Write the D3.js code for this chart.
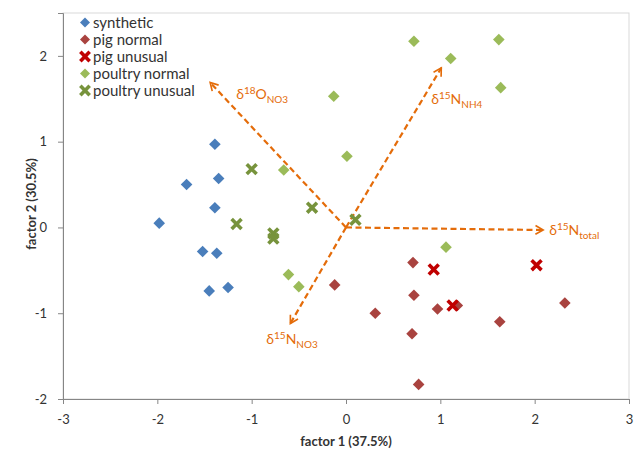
<!DOCTYPE html>
<html>
<head>
<meta charset="utf-8">
<script src="https://cdn.jsdelivr.net/npm/d3@7"></script>
<style>
  body { margin: 0; background: #fff; }
  text { font-family: Lato, 'Open Sans', sans-serif; }
</style>
</head>
<body>
<div class="graph"></div>
<script>
// scores, [factor 1, factor 2]
var synthetic = [[-1.39, 0.97], [-1.69, 0.50], [-1.35, 0.57], [-1.39, 0.23], [-1.98, 0.05],
  [-1.52, -0.28], [-1.37, -0.30], [-1.45, -0.74], [-1.25, -0.70]];
var pigNormal = [[0.71, -0.41], [0.72, -0.79], [-0.12, -0.67], [0.31, -1.00], [0.97, -0.95],
  [0.70, -1.24], [0.77, -1.83], [1.63, -1.10], [2.32, -0.88], [1.18, -0.91]];
var pigUnusual = [[0.93, -0.49], [1.13, -0.91], [2.02, -0.44]];
var poultryNormal = [[-0.66, 0.67], [0.01, 0.83], [-0.61, -0.55], [-0.50, -0.69], [0.72, 2.17],
  [1.62, 2.19], [1.11, 1.97], [1.64, 1.63], [-0.13, 1.53], [1.06, -0.23]];
var poultryUnusual = [[-1.00, 0.68], [-1.16, 0.04], [-0.77, -0.07], [-0.77, -0.13], [-0.36, 0.23], [0.10, 0.09]];

// loadings (arrow tips)
var loadingNames = ['18O_NO3', '15N_NH4', '15N_total', '15N_NO3'];
var loadingX = [-1.44, 1.01, 2.09, -0.59];
var loadingY = [1.69, 1.86, -0.03, -1.12];

var xTicks = [-3, -2, -1, 0, 1, 2, 3];
var yTicks = [-2, -1, 0, 1, 2];

var width = 635,
    height = 451;

var series = [
  { name: 'synthetic', data: synthetic, shape: 'diamond', color: '#4A7EBB' },
  { name: 'pig normal', data: pigNormal, shape: 'diamond', color: '#A9433F' },
  { name: 'pig unusual', data: pigUnusual, shape: 'cross', color: '#C00000' },
  { name: 'poultry normal', data: poultryNormal, shape: 'diamond', color: '#9BBB59' },
  { name: 'poultry unusual', data: poultryUnusual, shape: 'cross', color: '#77933C' }
];

var svg = d3.select('.graph')
  .append('svg')
  .attr('width', width)
  .attr('height', height);

var xScale = d3.scaleLinear().domain([-3, 3]).range([63, 629]);
var yScale = d3.scaleLinear().domain([-2, 2.5]).range([399, 13]);

// plot area border
svg.append('rect')
  .attr('x', xScale(-3))
  .attr('y', yScale(2.5))
  .attr('width', xScale(3) - xScale(-3))
  .attr('height', yScale(-2) - yScale(2.5))
  .attr('fill', 'none')
  .attr('stroke', '#d9d9d9');

var plainFormat = (d) => String(d);

var xAxis = svg.append('g')
  .attr('transform', 'translate(0,' + yScale(-2) + ')')
  .call(d3.axisBottom(xScale).tickValues(xTicks).tickFormat(plainFormat)
    .tickSizeOuter(0).tickSize(5).tickPadding(11));

var yAxis = svg.append('g')
  .attr('transform', 'translate(' + xScale(-3) + ',0)')
  .call(d3.axisLeft(yScale).tickValues(yTicks).tickFormat(plainFormat)
    .tickSizeOuter(0).tickSize(5).tickPadding(11));

[xAxis, yAxis].forEach(function (g) {
  g.select('.domain').attr('stroke', '#868686');
  g.selectAll('.tick line').attr('stroke', '#868686');
  g.selectAll('.tick text')
    .attr('fill', '#333')
    .style('font-size', '13px')
    .style('font-family', 'Lato, sans-serif');
});

svg.append('text')
  .text('factor 1 (37.5%)')
  .attr('x', xScale(0))
  .attr('y', 446)
  .attr('text-anchor', 'middle')
  .style('font-size', '13px')
  .style('font-weight', 'bold')
  .attr('fill', '#333');

svg.append('text')
  .text('factor 2 (30.5%)')
  .attr('transform', 'translate(36,' + 204 + ') rotate(-90)')
  .attr('text-anchor', 'middle')
  .style('font-size', '13px')
  .style('font-weight', 'bold')
  .attr('fill', '#333');

// loading arrows
var orange = '#E46C0A';
svg.append('defs').append('marker')
  .attr('id', 'head')
  .attr('viewBox', '0 0 10 10')
  .attr('refX', 8)
  .attr('refY', 5)
  .attr('markerWidth', 5)
  .attr('markerHeight', 5)
  .attr('markerUnits', 'strokeWidth')
  .attr('orient', 'auto')
  .append('path')
  .attr('d', 'M1,1 L8,5 L1,9')
  .attr('fill', 'none')
  .attr('stroke', orange)
  .attr('stroke-width', 1.5);

svg.selectAll('.loading')
  .data(loadingNames)
  .enter()
  .append('line')
  .attr('class', 'loading')
  .attr('x1', xScale(0))
  .attr('y1', yScale(0))
  .attr('x2', (d, i) => xScale(loadingX[i]))
  .attr('y2', (d, i) => yScale(loadingY[i]))
  .attr('stroke', orange)
  .attr('stroke-width', 2.2)
  .attr('stroke-dasharray', '6,3.5')
  .attr('marker-end', 'url(#head)');

// label offsets from arrow tips, in pixels
var labelDx = [26, -10, 6, -24];
var labelDy = [17, 36, 5, 20];

loadingNames.forEach(function (name, i) {
  var parts = name.split('_');
  var t = svg.append('text')
    .attr('x', xScale(loadingX[i]) + labelDx[i])
    .attr('y', yScale(loadingY[i]) + labelDy[i])
    .attr('fill', orange)
    .style('font-size', '14px');
  t.append('tspan').text('\u03B4');
  t.append('tspan').text(parts[0].slice(0, 2)).attr('dy', -5).style('font-size', '10px');
  t.append('tspan').text(parts[0].slice(2)).attr('dy', 5);
  t.append('tspan').text(parts[1]).attr('dy', 4).style('font-size', '10px');
});

// markers
function drawMarker(sel, shape, color, size) {
  if (shape === 'diamond') {
    sel.append('path')
      .attr('d', 'M0,' + (-size) + ' L' + size + ',0 L0,' + size + ' L' + (-size) + ',0 Z')
      .attr('fill', color);
  } else {
    var s = size * 0.85;
    sel.append('path')
      .attr('d', 'M' + (-s) + ',' + (-s) + ' L' + s + ',' + s + ' M' + s + ',' + (-s) + ' L' + (-s) + ',' + s)
      .attr('stroke', color)
      .attr('stroke-width', 3.6)
      .attr('fill', 'none');
  }
}

series.forEach(function (s) {
  svg.append('g')
    .selectAll('g')
    .data(s.data)
    .enter()
    .append('g')
    .attr('transform', d => 'translate(' + xScale(d[0]) + ',' + yScale(d[1]) + ')')
    .each(function () { drawMarker(d3.select(this), s.shape, s.color, 5.8); });
});

// legend
var legend = svg.append('g')
  .selectAll('g')
  .data(series)
  .enter()
  .append('g')
  .attr('transform', (d, i) => 'translate(85,' + (22.5 + i * 17) + ')');

legend.each(function (d) { drawMarker(d3.select(this), d.shape, d.color, d.shape === 'diamond' ? 5 : 5.5); });

legend.append('text')
  .text(d => d.name)
  .attr('x', 8)
  .attr('y', 5)
  .attr('fill', '#333')
  .style('font-size', '15px');
</script>
</body>
</html>
